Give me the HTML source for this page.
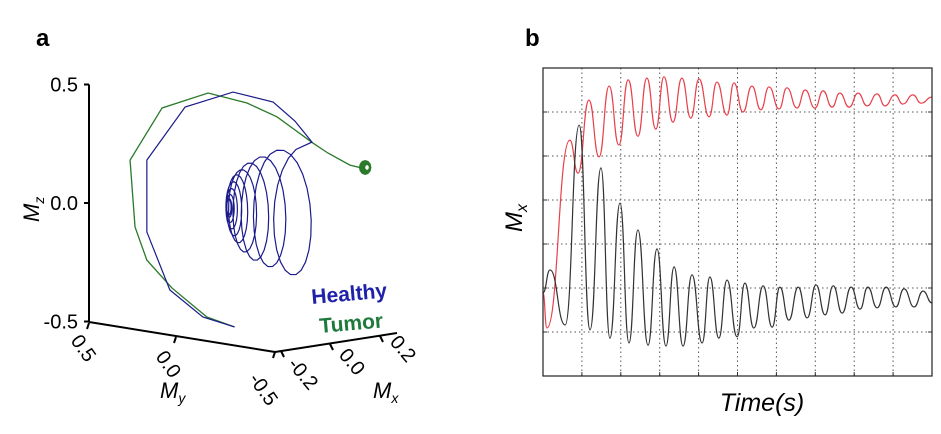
<!DOCTYPE html>
<html><head><meta charset="utf-8"><style>
html,body{margin:0;padding:0;background:#fff;}
svg{display:block;font-family:"Liberation Sans",sans-serif;}
</style></head><body>
<svg id="fig" width="941" height="434" viewBox="0 0 941 434">
<text x="36" y="46" font-size="24" font-weight="bold">a</text>
<text x="525" y="46" font-size="24" font-weight="bold">b</text>
<g id="pa"></g>
<g id="pb"></g>
</svg>
<script>
// ===== Panel b data (time in grid units 0..10, Mx in grid units 0..7) =====
const redT = [0,0.10,0.69,0.90,1.18,1.44,1.70,1.95,2.19,2.44,2.67,2.90,3.11,3.34,3.57,3.80,4.01,4.27,4.47,4.73,4.91,5.14,5.37,5.60,5.81,6.07,6.27,6.53,6.74,6.99,7.20,7.43,7.63,7.87,8.10,8.33,8.59,8.79,9.05,9.25,9.51,9.72,10];
const redV = [1.89,1.09,5.36,4.61,6.27,4.98,6.59,5.25,6.73,5.45,6.77,5.61,6.80,5.77,6.77,5.86,6.75,5.89,6.68,5.93,6.66,6.00,6.59,6.05,6.57,6.07,6.55,6.09,6.50,6.09,6.48,6.11,6.43,6.11,6.43,6.14,6.41,6.14,6.39,6.18,6.39,6.20,6.34];
const blackT = [0,0.18,0.57,0.93,1.21,1.49,1.72,1.98,2.21,2.44,2.70,2.93,3.16,3.37,3.60,3.83,4.09,4.29,4.52,4.73,4.99,5.19,5.42,5.66,5.89,6.09,6.32,6.56,6.79,7.02,7.25,7.46,7.69,7.92,8.15,8.35,8.59,8.82,9.07,9.28,9.54,9.77,10];
const blackV = [1.89,2.41,1.16,5.70,1.05,4.73,0.86,3.93,0.75,3.32,0.70,2.89,0.68,2.48,0.68,2.30,0.75,2.25,0.86,2.18,0.89,2.11,1.09,2.05,1.11,2.02,1.27,2.02,1.32,2.07,1.39,2.05,1.43,2.02,1.52,2.02,1.55,2.02,1.57,1.98,1.57,1.93,1.66];
const xGrid = [1,2,3,4,5,6,7,8,9];
const yGrid = [1,2,3,4,5,6];

// ===== Panel a data (projected coords: u horizontal 0..1, Mz vertical) =====
const zTicks = [0.5,0.0,-0.5];
const zTickLabels = ["0.5","0.0","-0.5"];
const healthyPathU = [0.468,0.366,0.260,0.186,0.186,0.309,0.463,0.592,0.662,0.717];
const healthyPathZ = [-0.523,-0.481,-0.367,-0.122,0.181,0.405,0.468,0.426,0.346,0.257];
const loopU  = [0.698,0.608,0.553,0.514,0.489,0.473,0.463,0.457,0.453,0.450];
const loopZ  = [-0.038,-0.030,-0.030,-0.030,-0.021,-0.017,-0.017,-0.017,-0.017,-0.017];
const loopRu = [0.090,0.071,0.058,0.048,0.039,0.029,0.023,0.016,0.011,0.007];
const loopRz = [0.283,0.253,0.224,0.198,0.160,0.135,0.105,0.076,0.051,0.034];
const tumorU = [0.468,0.379,0.267,0.186,0.148,0.132,0.235,0.383,0.508,0.605,0.720,0.768,0.839,0.870];
const tumorZ = [-0.523,-0.481,-0.359,-0.241,-0.101,0.181,0.401,0.464,0.422,0.363,0.253,0.211,0.160,0.150];
const coilR = [0.018,0.015,0.012,0.010,0.008];

const NS="http://www.w3.org/2000/svg";
function mk(tag,attrs,parent){const e=document.createElementNS(NS,tag);for(const k in attrs)e.setAttribute(k,attrs[k]);parent.appendChild(e);return e;}

// ---------- Panel b ----------
const pb=document.getElementById('pb');
const X0=543,X1=932,Y0=376,Y1=68;
const bx=t=>X0+(X1-X0)*t/10;
const by=v=>Y0-(Y0-Y1)*v/7;
xGrid.forEach(g=>{const l=mk('line',{x1:bx(g),x2:bx(g),y1:Y1,y2:Y0,stroke:'#555','stroke-width':1,'stroke-dasharray':'1.5,3'},pb);


const t1=mk('line',{x1:bx(g),x2:bx(g),y1:Y0,y2:Y0-4,stroke:'#333'},pb);

});
yGrid.forEach(g=>{const l=mk('line',{x1:X0,x2:X1,y1:by(g),y2:by(g),stroke:'#555','stroke-width':1,'stroke-dasharray':'1.5,3'},pb);


const t1=mk('line',{x1:X0,x2:X0+4,y1:by(g),y2:by(g),stroke:'#333'},pb);


const t2=mk('line',{x1:X1-4,x2:X1,y1:by(g),y2:by(g),stroke:'#333'},pb);

});
function smooth(T,V,fx,fy){let d=`M${fx(T[0])},${fy(V[0])}`;for(let i=1;i<T.length;i++){const xa=fx(T[i-1]),xb=fx(T[i]),m=(xb-xa)/2;d+=` C${xa+m},${fy(V[i-1])} ${xb-m},${fy(V[i])} ${xb},${fy(V[i])}`;}return d;}
const rp=mk('path',{d:smooth(redT,redV,bx,by),fill:'none',stroke:'#e8404a','stroke-width':1.2},pb);


const kp=mk('path',{d:smooth(blackT,blackV,bx,by),fill:'none',stroke:'#333','stroke-width':1.2},pb);


const fr=mk('rect',{x:X0,y:Y1,width:X1-X0,height:Y0-Y1,fill:'none',stroke:'#222','stroke-width':1.2},pb);


const yl=mk('text',{x:0,y:0,'font-size':24,'font-style':'italic',transform:'translate(522,232) rotate(-90)'},pb);
yl.innerHTML='M<tspan font-size="16" dy="5">x</tspan>';


const xl=mk('text',{x:762,y:411,'font-size':25,'font-style':'italic','text-anchor':'middle'},pb);
xl.textContent='Time(s)';



// ---------- Panel a ----------
const pa=document.getElementById('pa');
const ax=u=>89+u*311;
const az=z=>203-z*237;
const zax=mk('line',{x1:89,y1:az(0.5),x2:89,y2:az(-0.5),stroke:'#000','stroke-width':2},pa);


zTicks.forEach((z,i)=>{const t=mk('line',{x1:84,x2:89,y1:az(z),y2:az(z),stroke:'#000','stroke-width':2},pa);


const tl=mk('text',{x:78,y:az(z)+7,'font-size':20,'text-anchor':'end'},pa);
tl.textContent=zTickLabels[i];

});
const mzl=mk('text',{x:0,y:0,'font-size':22,'font-style':'italic',transform:'translate(39,222) rotate(-90)'},pa);
mzl.innerHTML='M<tspan font-size="14" dy="5">z</tspan>';


const myax=mk('line',{x1:89,y1:322,x2:275,y2:352,stroke:'#000','stroke-width':2},pa);


const mxax=mk('line',{x1:275,y1:352,x2:397,y2:333,stroke:'#000','stroke-width':2},pa);


const myT=[[89,323,"0.5",78,352],[176,337,"0.0",163,368],[275,352,"-0.5",258,393]];
myT.forEach(a=>{const t=mk('line',{x1:a[0],y1:a[1],x2:a[0]-2,y2:a[1]+6,stroke:'#000','stroke-width':2},pa);


const tl=mk('text',{x:0,y:0,'font-size':20,'text-anchor':'middle',transform:`translate(${a[3]},${a[4]}) rotate(55)`},pa);
tl.textContent=a[2];

});
const mxT=[[281,351,"-0.2",298,378],[330,344,"0.0",347,366],[380,336,"0.2",398,353]];
mxT.forEach(a=>{const t=mk('line',{x1:a[0],y1:a[1],x2:a[0]+3,y2:a[1]+6,stroke:'#000','stroke-width':2},pa);


const tl=mk('text',{x:0,y:0,'font-size':20,'text-anchor':'middle',transform:`translate(${a[3]},${a[4]}) rotate(50)`},pa);
tl.textContent=a[2];

});
const myl=mk('text',{x:160,y:398,'font-size':22,'font-style':'italic'},pa);
myl.innerHTML='M<tspan font-size="14" dy="5">y</tspan>';


const mxl=mk('text',{x:373,y:398,'font-size':22,'font-style':'italic'},pa);
mxl.innerHTML='M<tspan font-size="14" dy="5">x</tspan>';



// tumor trajectory
let dt=tumorU.map((u,i)=>(i?'L':'M')+ax(u)+','+az(tumorZ[i])).join(' ');
const cu=tumorU[tumorU.length-1],cz=tumorZ[tumorZ.length-1];
coilR.forEach((r,k)=>{for(let j=0;j<=12;j++){const a=Math.PI*2*j/12;dt+=` L${ax(cu+r*(1-Math.cos(a))+k*0.004)},${az(cz-r*1.6*Math.sin(a))}`;}});
const tp=mk('path',{d:dt,fill:'none',stroke:'#2a7a2a','stroke-width':1.3},pa);



// healthy trajectory
let dh=healthyPathU.map((u,i)=>(i?'L':'M')+ax(u)+','+az(healthyPathZ[i])).join(' ');
const ph=-1.2;
for(let k=0;k<loopU.length;k++){const n=k<loopU.length-1?k+1:k;for(let j=0;j<=24;j++){const f=j/24,a=Math.PI*2*f;
const cu2=loopU[k]+(loopU[n]-loopU[k])*f,cz2=loopZ[k]+(loopZ[n]-loopZ[k])*f,ru=loopRu[k]+(loopRu[n]-loopRu[k])*f,rz=loopRz[k]+(loopRz[n]-loopRz[k])*f;
dh+=` L${ax(cu2-ru*Math.cos(a+ph))},${az(cz2-rz*Math.sin(a+ph))}`;}}
const hp=mk('path',{d:dh,fill:'none',stroke:'#1a1a8c','stroke-width':1.2},pa);



const lh=mk('text',{x:0,y:0,'font-size':21,'font-weight':'bold',fill:'#1f22a8',transform:'translate(312,304) rotate(-5)'},pa);
lh.textContent='Healthy';


const lt=mk('text',{x:0,y:0,'font-size':21,'font-weight':'bold',fill:'#1e7a3c',transform:'translate(320,333) rotate(-5)'},pa);
lt.textContent='Tumor';


</script>
</body></html>
